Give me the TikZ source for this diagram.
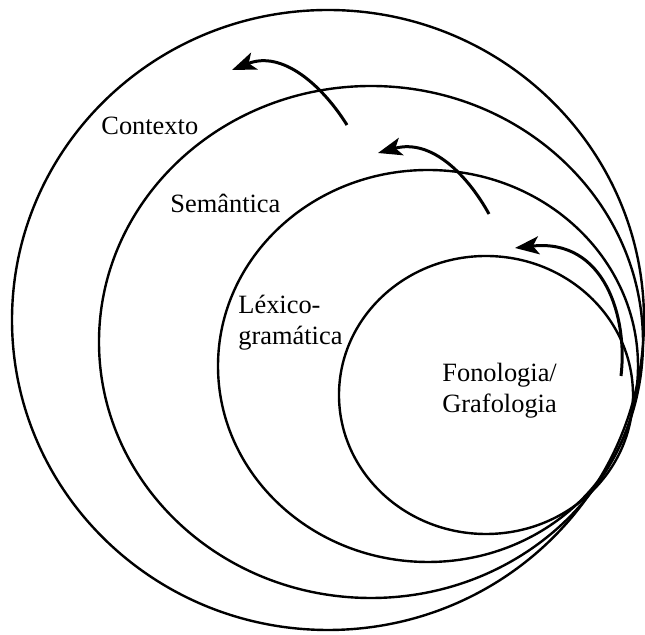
\documentclass[tikz,border=0pt]{standalone}
\usepackage{fontspec}
\setmainfont{Liberation Serif}
\usetikzlibrary{arrows.meta,positioning}

\tikzset{
	ring/.style={line width=1.2pt},
	realise/.style={line width=1.5pt,-{Stealth[length=12pt,width=9pt,inset=3pt]}},
	lbl/.style={inner sep=0pt,align=left,font=\fontsize{13.2}{15.5}\selectfont}
}

\begin{document}
\begin{tikzpicture}[x=0.5pt,y=-0.5pt]
	\useasboundingbox (0,0) rectangle (645,635);
	% nested strata
	\draw[ring] (328,320) ellipse [x radius=316, y radius=310];
	\draw[ring] (371,342) ellipse [x radius=272, y radius=256];
	\draw[ring] (428,366) ellipse [x radius=210, y radius=196];
	\draw[ring] (486,395) ellipse [x radius=147, y radius=139];
	% labels
	\node[lbl,anchor=base west] (contexto) at (101,135) {Contexto};
	\node[lbl,anchor=base west] (semantica) at (170,213) {Semântica};
	\node[lbl,anchor=base west] (lexico) at (238,345) {Léxico-\\gramática};
	\node[lbl,anchor=base west] (fono) at (442,413) {Fonologia/\\Grafologia};
	% realisation arrows
	\draw[realise] (347,125) .. controls (322,85) and (282,50) .. (232,70);
	\draw[realise] (489,214) .. controls (468,176) and (432,138) .. (378,153);
	\draw[realise] (621,376) .. controls (628,318) and (605,238) .. (515,248);
\end{tikzpicture}
\end{document}
